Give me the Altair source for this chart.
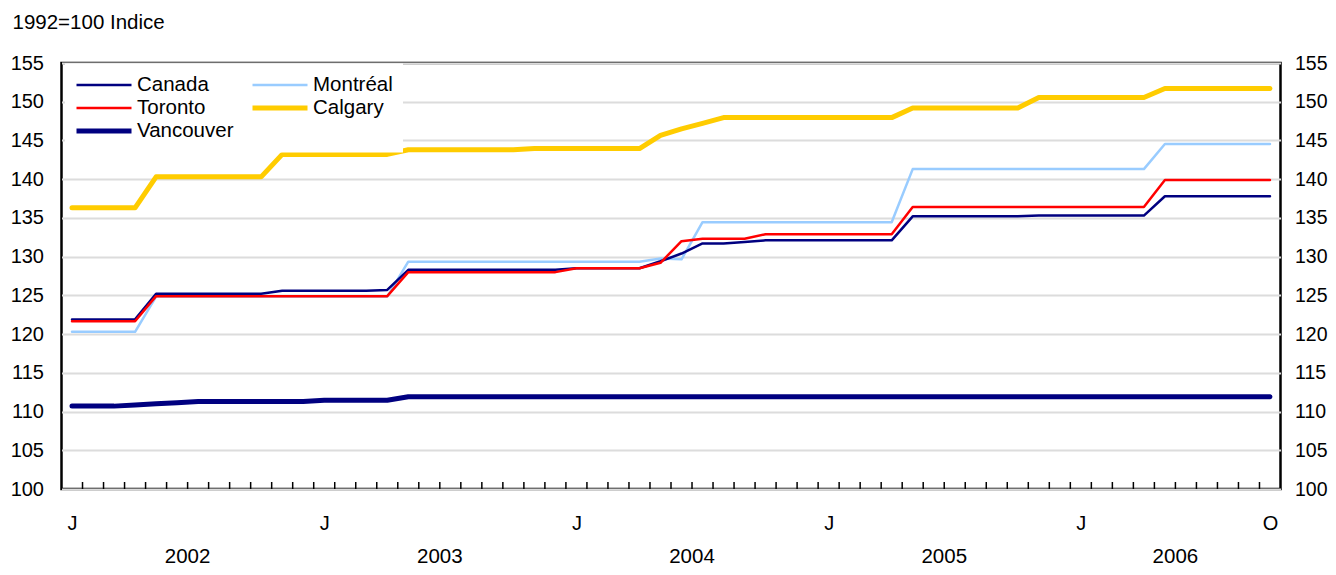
import altair as alt
import pandas as pd

# ---- data (monthly, Jan 2002 .. Oct 2006) ----
months = list(range(58))
# legend order (column-major in a 2-column legend): Canada, Toronto, Vancouver | Montréal, Calgary
series_names = ["Canada", "Toronto", "Vancouver", "Montréal", "Calgary"]
series_colors = ["#000080", "#FF0000", "#000080", "#99CCFF", "#FFCC00"]
series_widths = [2.5, 2.5, 5, 2.5, 5]
draw_order = ["Vancouver", "Calgary", "Montréal", "Canada", "Toronto"]

canada = [121.9, 121.9, 121.9, 121.9, 125.2, 125.2, 125.2, 125.2, 125.2, 125.2,
          125.6, 125.6, 125.6, 125.6, 125.6, 125.7, 128.3, 128.3, 128.3, 128.3,
          128.3, 128.3, 128.3, 128.3, 128.5, 128.5, 128.5, 128.5, 129.4, 130.4,
          131.7, 131.7, 131.9, 132.1, 132.1, 132.1, 132.1, 132.1, 132.1, 132.1,
          135.2, 135.2, 135.2, 135.2, 135.2, 135.2, 135.3, 135.3, 135.3, 135.3,
          135.3, 135.3, 137.8, 137.8, 137.8, 137.8, 137.8, 137.8]
montreal = [120.3, 120.3, 120.3, 120.3, 124.85, 124.85, 124.85, 124.85, 124.85, 124.85,
            124.85, 124.85, 124.85, 124.85, 124.85, 124.85, 129.35, 129.35, 129.35, 129.35,
            129.35, 129.35, 129.35, 129.35, 129.35, 129.35, 129.35, 129.35, 129.75, 129.65,
            134.45, 134.45, 134.45, 134.45, 134.45, 134.45, 134.45, 134.45, 134.45, 134.45,
            141.3, 141.3, 141.3, 141.3, 141.3, 141.3, 141.3, 141.3, 141.3, 141.3,
            141.3, 141.3, 144.55, 144.55, 144.55, 144.55, 144.55, 144.55]
toronto = [121.65, 121.65, 121.65, 121.65, 124.9, 124.9, 124.9, 124.9, 124.9, 124.9,
           124.9, 124.9, 124.9, 124.9, 124.9, 124.9, 128.0, 128.0, 128.0, 128.0,
           128.0, 128.0, 128.0, 128.0, 128.5, 128.5, 128.5, 128.5, 129.2, 132.0,
           132.3, 132.3, 132.3, 132.9, 132.9, 132.9, 132.9, 132.9, 132.9, 132.9,
           136.4, 136.4, 136.4, 136.4, 136.4, 136.4, 136.4, 136.4, 136.4, 136.4,
           136.4, 136.4, 139.9, 139.9, 139.9, 139.9, 139.9, 139.9]
calgary = [136.3, 136.3, 136.3, 136.3, 140.3, 140.3, 140.3, 140.3, 140.3, 140.3,
           143.2, 143.2, 143.2, 143.2, 143.2, 143.2, 143.8, 143.8, 143.8, 143.8,
           143.8, 143.8, 143.95, 143.95, 143.95, 143.95, 143.95, 143.95, 145.65, 146.5,
           147.2, 147.95, 147.95, 147.95, 147.95, 147.95, 147.95, 147.95, 147.95, 147.95,
           149.2, 149.2, 149.2, 149.2, 149.2, 149.2, 150.55, 150.55, 150.55, 150.55,
           150.55, 150.55, 151.7, 151.7, 151.7, 151.7, 151.7, 151.7]
vancouver = [110.7, 110.7, 110.7, 110.85, 111.0, 111.15, 111.3, 111.3, 111.3, 111.3,
             111.3, 111.3, 111.45, 111.45, 111.45, 111.45, 111.9, 111.9, 111.9, 111.9,
             111.9, 111.9, 111.9, 111.9, 111.9, 111.9, 111.9, 111.9, 111.9, 111.9,
             111.9, 111.9, 111.9, 111.9, 111.9, 111.9, 111.9, 111.9, 111.9, 111.9,
             111.9, 111.9, 111.9, 111.9, 111.9, 111.9, 111.9, 111.9, 111.9, 111.9,
             111.9, 111.9, 111.9, 111.9, 111.9, 111.9, 111.9, 111.9]

month_label_pos = [0, 12, 24, 36, 48, 57]
month_labels = ["J", "J", "J", "J", "J", "O"]
years = ["2002", "2003", "2004", "2005", "2006"]
year_centers = [5.5, 17.5, 29.5, 41.5, 52.5]
y_ticks = [100, 105, 110, 115, 120, 125, 130, 135, 140, 145, 150, 155]

values = {"Canada": canada, "Montréal": montreal, "Toronto": toronto,
          "Calgary": calgary, "Vancouver": vancouver}
width_of = dict(zip(series_names, series_widths))
rows = []
for name in draw_order:
    for m, v in zip(months, values[name]):
        rows.append({"m": m, "v": v, "series": name, "w": width_of[name],
                     "z": draw_order.index(name)})
df = pd.DataFrame(rows)

tick_df = pd.DataFrame({"m": [m + 0.5 for m in months[:-1]]})
year_df = pd.DataFrame({"m": year_centers, "label": years})

FONT = "Liberation Sans"
W, H = 1219, 426

label_map = "{" + ",".join(f"'{p}':'{l}'" for p, l in zip(month_label_pos, month_labels)) + "}"
thick = [n for n, w in zip(series_names, series_widths) if w > 3]
thick_expr = " || ".join(f"datum.value == '{n}'" for n in thick)

x_enc = alt.X("m:Q",
              scale=alt.Scale(domain=[-0.5, 57.5], nice=False, zero=False),
              axis=alt.Axis(values=month_label_pos, labelExpr=f"{label_map}[datum.value]",
                            title=None, domain=False, ticks=False, grid=False,
                            labelPadding=24, labelFontSize=20, labelFont=FONT,
                            labelColor="black"))
y_scale = alt.Scale(domain=[100, 155], nice=False, zero=False)

leg = alt.Legend(orient="none", legendX=3.5, legendY=0.5, columns=2,
                 symbolType="stroke", symbolSize=3025, clipHeight=23,
                 rowPadding=0, columnPadding=17, labelFontSize=20.5, labelFont=FONT,
                 labelColor="black", labelOffset=4, fillColor="white", padding=10,
                 title=None, symbolOffset=0, labelLimit=300,
                 symbolStrokeWidth=alt.ExprRef(expr=f"(({thick_expr}) ? 5 : 2.5)"))

lines = alt.Chart(df).mark_line(strokeCap="round", strokeJoin="round").encode(
    x=x_enc,
    y=alt.Y("v:Q", scale=y_scale,
            axis=alt.Axis(values=y_ticks, title="1992=100 Indice", titleAngle=0,
                          titleAlign="left", titleBaseline="middle", titleX=-49.5,
                          titleY=-41, titleFontSize=20.5, titleFont=FONT,
                          titleFontWeight="normal", titleColor="black",
                          domain=False, ticks=False, grid=True, gridColor="#dcdcdc",
                          gridWidth=2, labelPadding=18, labelFontSize=20,
                          labelFont=FONT, labelColor="black")),
    color=alt.Color("series:N", scale=alt.Scale(domain=series_names, range=series_colors),
                    legend=leg),
    strokeWidth=alt.StrokeWidth("w:Q", scale=None),
    detail="z:O",
    order=alt.Order("m:Q"),
)

right_axis = alt.Chart(df).mark_point(opacity=0, size=1).encode(
    x=alt.X("m:Q"),
    y=alt.Y("v:Q", scale=y_scale,
            axis=alt.Axis(orient="right", values=y_ticks, title=None, domain=False,
                          ticks=False, grid=False, labelPadding=14, labelFontSize=19.5,
                          labelFont=FONT, labelColor="black")),
)

ticks = alt.Chart(tick_df).mark_rule(color="black", strokeWidth=1.5).encode(
    x=alt.X("m:Q"),
    y=alt.value(H),
    y2=alt.value(H - 7),
)

year_text = alt.Chart(year_df).mark_text(fontSize=20.5, font=FONT, color="black",
                                         baseline="middle", align="center").encode(
    x=alt.X("m:Q"),
    y=alt.value(H + 68),
    text="label:N",
)

chart = alt.layer(lines, right_axis, ticks, year_text).resolve_axis(
    y="independent"
).properties(
    width=W, height=H,
    autosize=alt.AutoSizeParams(type="none"),
    padding={"left": 53.5, "top": 55, "right": 47, "bottom": 78},
    background="white",
).configure_view(
    stroke="black", strokeWidth=2.5
)

chart.save("out.html", embed_options={"renderer": "svg", "actions": False})
